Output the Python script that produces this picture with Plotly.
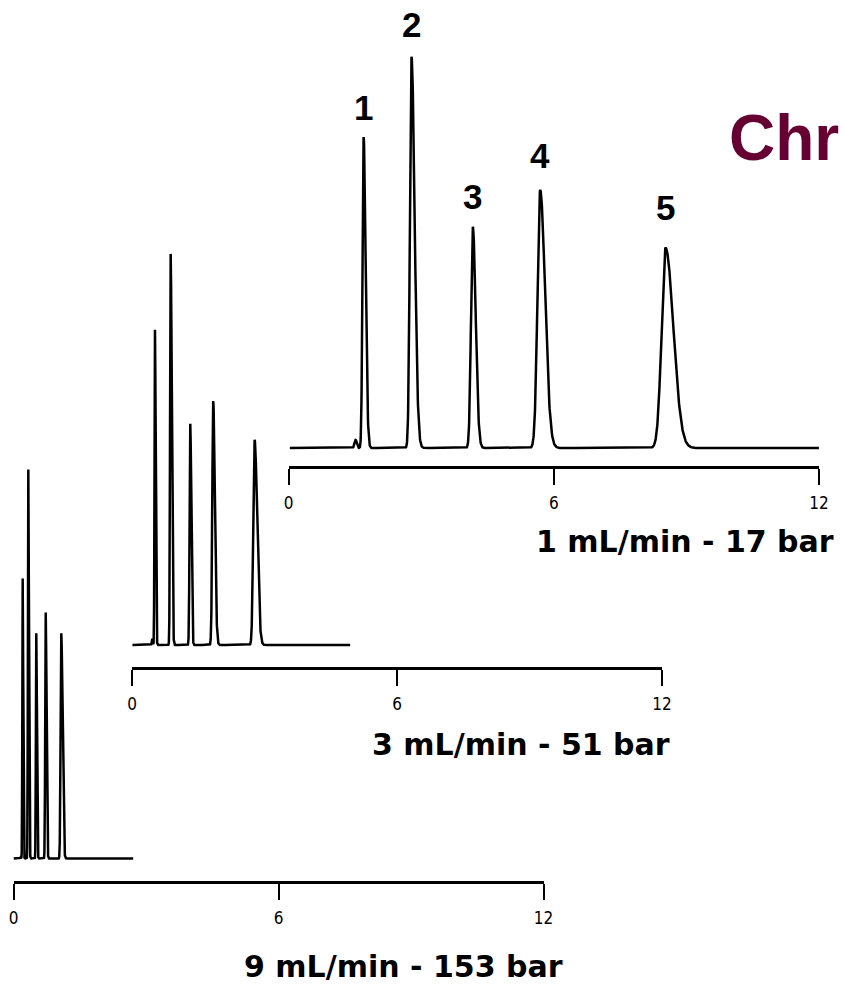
import numpy as np
import plotly.graph_objects as go

# ---- peak table for each flow rate -------------------------------------
peak_ids = ["1", "2", "3", "4", "5"]

# 1 mL/min
rt_1ml = [1.699, 2.782, 4.169, 5.693, 8.530]          # retention time, min
height_1ml = [77.8, 97.8, 55.3, 64.5, 50.0]           # mV
front_1ml = [0.025, 0.035, 0.040, 0.060, 0.090]       # leading sigma, min
tail_1ml = [0.045, 0.070, 0.065, 0.110, 0.175]        # trailing sigma, min

# 3 mL/min
rt_3ml = [0.520, 0.875, 1.319, 1.839, 2.776]
height_3ml = [78.8, 97.8, 55.3, 61.0, 51.3]
front_3ml = [0.010, 0.013, 0.015, 0.021, 0.030]
tail_3ml = [0.016, 0.024, 0.023, 0.037, 0.058]

# 9 mL/min
rt_9ml = [0.208, 0.335, 0.516, 0.729, 1.082]
height_9ml = [70.0, 97.3, 56.3, 61.5, 56.3]
front_9ml = [0.008, 0.009, 0.009, 0.011, 0.015]
tail_9ml = [0.012, 0.014, 0.014, 0.018, 0.028]

# small injection disturbance just ahead of peak 1
void_rt = [1.518, 0.459, 0.170]
void_height = [2.0, 1.6, 0.6]
void_width = [0.025, 0.010, 0.005]

run_start = [0.03, 0.01, 0.0]
run_end = [12.0, 4.94, 2.71]
sample_step = [0.004, 0.0015, 0.0007]

conditions = ["1 mL/min - 17 bar", "3 mL/min - 51 bar", "9 mL/min - 153 bar"]
time_ticks = [0, 6, 12]
title_text = "Chr"


def chromatogram(t, rts, heights, fronts, tails, v_rt, v_h, v_w):
    """Sum of bi-Gaussian peaks (different front and tail widths)."""
    y = np.zeros_like(t)
    for rt, h, sf, st in zip(rts, heights, fronts, tails):
        s = np.where(t < rt, sf, st)
        y += h * np.exp(-0.5 * ((t - rt) / s) ** 2)
    y += v_h * np.exp(-0.5 * ((t - v_rt) / v_w) ** 2)
    return y


runs = [
    (rt_1ml, height_1ml, front_1ml, tail_1ml),
    (rt_3ml, height_3ml, front_3ml, tail_3ml),
    (rt_9ml, height_9ml, front_9ml, tail_9ml),
]

# ---- page geometry (pixels) --------------------------------------------
W, H = 845, 984
PX_PER_MV = 4.0
# left/right end of each time axis, axis-line row, trace baseline row, top of panel
panel_x = [(288.5, 819.0), (132.0, 662.0), (13.5, 543.5)]
axis_row = [466.0, 666.5, 880.5]
base_row = [448.0, 645.0, 858.5]
top_row = [0.0, 200.0, 400.0]

fig = go.Figure()
layout_axes = {}
for i, (rts, hts, fr, tl) in enumerate(runs):
    t = np.arange(run_start[i], run_end[i] + 1e-9, sample_step[i])
    sig = chromatogram(t, rts, hts, fr, tl, void_rt[i], void_height[i], void_width[i])
    suffix = "" if i == 0 else str(i + 1)
    fig.add_trace(go.Scatter(
        x=t, y=sig, mode="lines",
        line=dict(color="black", width=2.5),
        xaxis="x" + suffix, yaxis="y" + suffix,
        showlegend=False, hoverinfo="skip",
    ))
    x0, x1 = panel_x[i]
    layout_axes["xaxis" + suffix] = dict(
        domain=[x0 / W, x1 / W], range=[0, 12],
        anchor="y" + suffix, automargin=False,
        showline=True, linecolor="black", linewidth=3,
        ticks="outside", ticklen=16, tickwidth=2, tickcolor="black",
        tickvals=time_ticks, ticktext=[str(v) for v in time_ticks],
        tickfont=dict(family="Liberation Sans Narrow, DejaVu Sans Condensed, Liberation Mono",
                      size=17, color="black"),
        ticklabelstandoff=4,
        showgrid=False, zeroline=False, fixedrange=True,
    )
    lo = -(axis_row[i] - base_row[i]) / PX_PER_MV
    hi = (base_row[i] - top_row[i]) / PX_PER_MV
    layout_axes["yaxis" + suffix] = dict(
        domain=[1 - axis_row[i] / H, 1 - top_row[i] / H],
        range=[lo, hi], anchor="x" + suffix, automargin=False,
        visible=False, fixedrange=True,
    )

annotations = []
# peak numbers above the 1 mL/min run
label_lift = [16, 19, 17, 21, 27]
for pid, rt, h, lift in zip(peak_ids, rt_1ml, height_1ml, label_lift):
    annotations.append(dict(
        x=rt, y=h, xref="x", yref="y", text=pid, showarrow=False,
        xanchor="center", yanchor="bottom", yshift=lift - 8,
        font=dict(family="Liberation Sans, Arial", size=35, color="black", weight="bold"),
    ))

# flow / pressure captions
caption_pos = [(534, 541), (370, 744), (242, 966)]
for txt, (cx, cy) in zip(conditions, caption_pos):
    annotations.append(dict(
        x=cx / W, y=1 - cy / H, xref="paper", yref="paper", text=txt,
        showarrow=False, xanchor="left", yanchor="middle",
        font=dict(family="DejaVu Sans", size=30, color="black", weight="bold"),
    ))

annotations.append(dict(
    x=727 / W, y=1 - 138 / H, xref="paper", yref="paper", text=title_text,
    showarrow=False, xanchor="left", yanchor="middle",
    font=dict(family="Liberation Sans, Arial", size=64, color="#660033", weight="bold"),
))

fig.update_layout(
    width=W, height=H, autosize=False,
    margin=dict(l=0, r=0, t=0, b=0, pad=0, autoexpand=False),
    paper_bgcolor="white", plot_bgcolor="rgba(0,0,0,0)",
    showlegend=False, hovermode=False,
    annotations=annotations,
    **layout_axes,
)

fig.write_html("out.html", config={"displayModeBar": False})
